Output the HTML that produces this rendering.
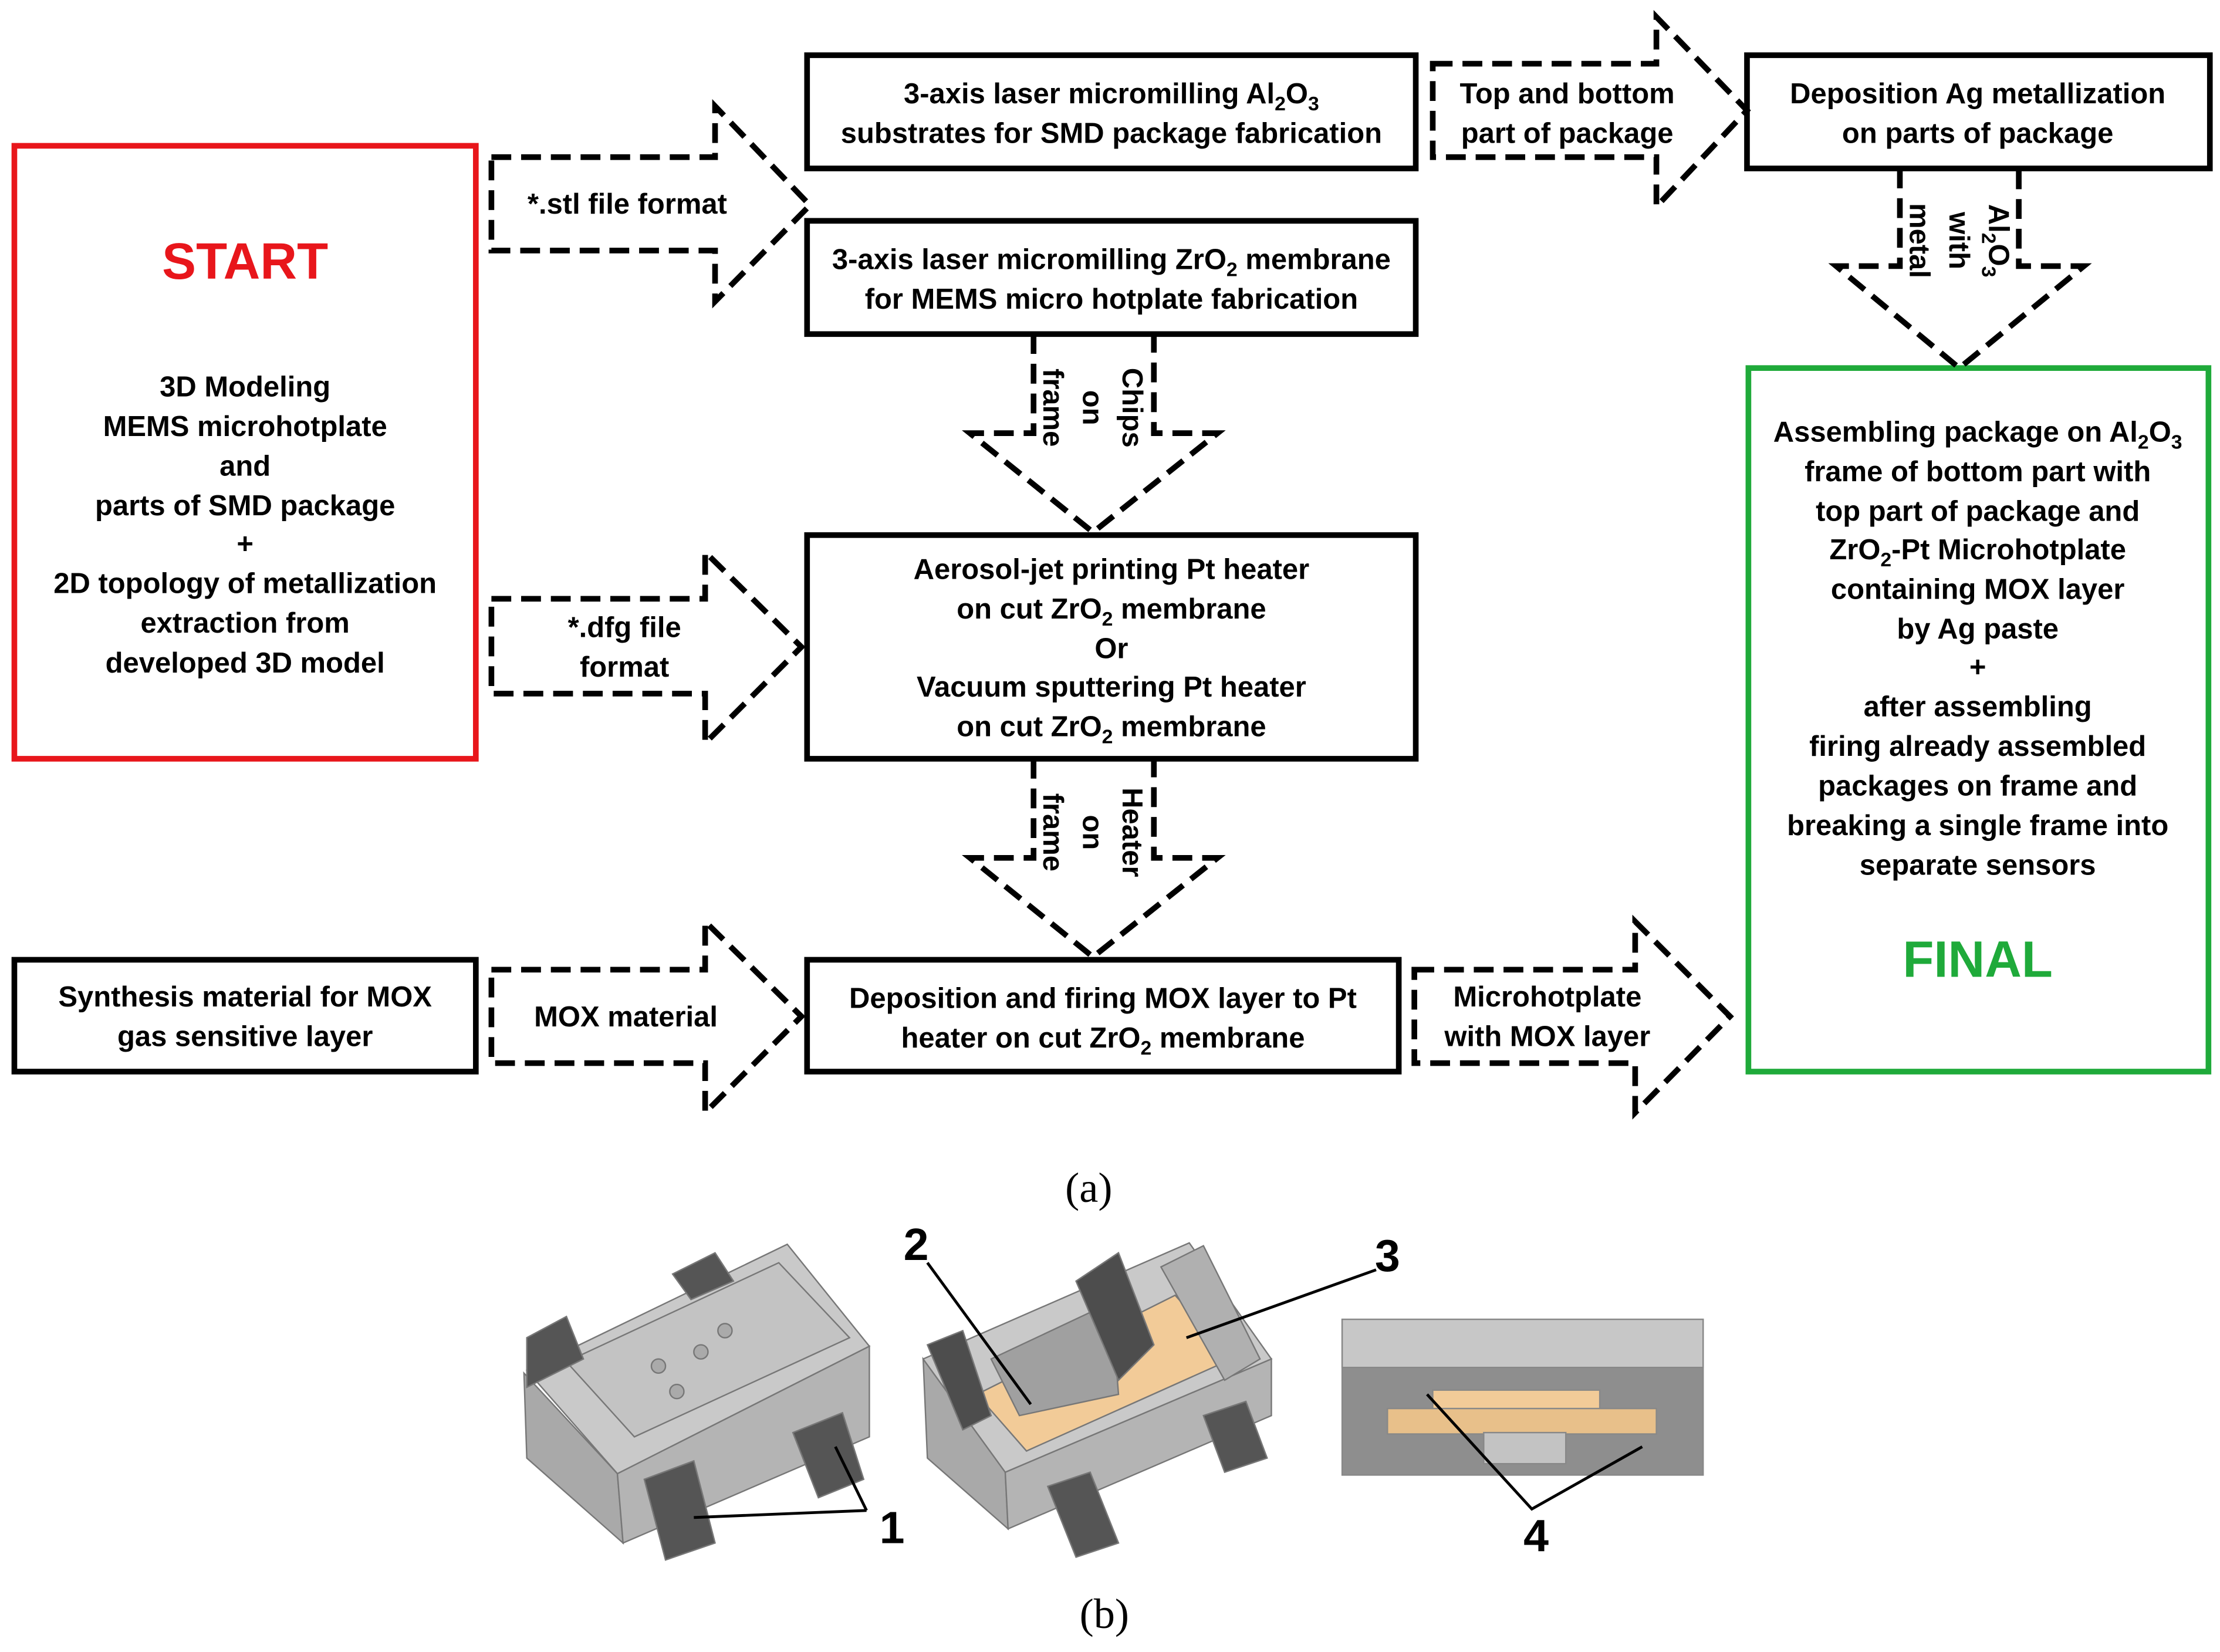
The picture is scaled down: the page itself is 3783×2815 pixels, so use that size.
<!DOCTYPE html>
<html><head><meta charset="utf-8"><style>html,body{margin:0;padding:0;background:#fff}svg{display:block}</style></head>
<body>
<svg width="3783" height="2815" viewBox="0 0 1568 1167" xmlns="http://www.w3.org/2000/svg" font-family="'Liberation Sans', sans-serif">
<rect width="1568" height="1167" fill="#fff"/>
<g fill="none" stroke="#000" stroke-width="4">
<rect x="570" y="39" width="430" height="80"/>
<rect x="570" y="156" width="430" height="80"/>
<rect x="570" y="378" width="430" height="158"/>
<rect x="570" y="678" width="418" height="79"/>
<rect x="10" y="678" width="326" height="79"/>
<rect x="1234" y="39" width="327" height="80"/>
</g>
<rect x="10" y="103" width="326" height="433" fill="none" stroke="#e8161b" stroke-width="4"/>
<rect x="1235" y="260" width="325" height="497" fill="none" stroke="#1faa3a" stroke-width="4"/>
<g fill="none" stroke="#000" stroke-width="4" stroke-dasharray="14,7">
<path d="M347,111 H505 V75 L572,145 L505,213 V177 H347 Z"/>
<path d="M347,423 H498 V390 L566,457 L498,525 V490 H347 Z"/>
<path d="M347,685 H498 V651 L566,718 L498,786 V751 H347 Z"/>
<path d="M999,685 H1155 V651 L1222,718 L1155,786 V751 H999 Z"/>
<path d="M1012,45 H1170 V12 L1234,78 L1170,146 V111 H1012 Z"/>
<path d="M730,236 V306 H685 L772,376 L860,306 H815 V236"/>
<path d="M730,536 V606 H685 L772,676 L860,606 H815 V536"/>
<path d="M1342,119 V188 H1297 L1384,260 L1472,188 H1426 V119"/>
</g>
<g font-weight="bold" font-size="20.3" text-anchor="middle" fill="#000">
<text x="173" y="197" font-size="36" fill="#e8161b">START</text>
<text x="173" y="280">3D Modeling</text>
<text x="173" y="308">MEMS microhotplate</text>
<text x="173" y="336">and</text>
<text x="173" y="364">parts of SMD package</text>
<text x="173" y="391">+</text>
<text x="173" y="419">2D topology of metallization</text>
<text x="173" y="447">extraction from</text>
<text x="173" y="475">developed 3D model</text>
<text x="173" y="711">Synthesis material for MOX</text>
<text x="173" y="739">gas sensitive layer</text>
<text x="443" y="151">*.stl  file format</text>
<text x="441" y="450">*.dfg file</text>
<text x="441" y="478">format</text>
<text x="442" y="725">MOX material</text>
<text x="1093" y="711">Microhotplate</text>
<text x="1093" y="739">with MOX layer</text>
<text x="1107" y="73">Top and bottom</text>
<text x="1107" y="101">part of package</text>
<text x="785" y="73">3-axis laser micromilling  Al<tspan font-size="14" dy="5">2</tspan><tspan dy="-5">O</tspan><tspan font-size="14" dy="5">3</tspan></text>
<text x="785" y="101">substrates  for SMD package fabrication</text>
<text x="785" y="190">3-axis laser micromilling  ZrO<tspan font-size="14" dy="5">2</tspan><tspan dy="-5"> membrane</tspan></text>
<text x="785" y="218">for MEMS micro hotplate fabrication</text>
<text x="785" y="409">Aerosol-jet printing  Pt heater</text>
<text x="785" y="437">on cut ZrO<tspan font-size="14" dy="5">2</tspan><tspan dy="-5"> membrane</tspan></text>
<text x="785" y="465">Or</text>
<text x="785" y="492">Vacuum sputtering Pt heater</text>
<text x="785" y="520">on cut ZrO<tspan font-size="14" dy="5">2</tspan><tspan dy="-5"> membrane</tspan></text>
<text x="779" y="712">Deposition and firing MOX layer to Pt</text>
<text x="779" y="740">heater on cut ZrO<tspan font-size="14" dy="5">2</tspan><tspan dy="-5"> membrane</tspan></text>
<text x="1397" y="73">Deposition Ag metallization</text>
<text x="1397" y="101">on parts of package</text>
<text x="1397" y="312">Assembling  package on Al<tspan font-size="14" dy="5">2</tspan><tspan dy="-5">O</tspan><tspan font-size="14" dy="5">3</tspan></text>
<text x="1397" y="340">frame of bottom part with</text>
<text x="1397" y="368">top part of package and</text>
<text x="1397" y="395">ZrO<tspan font-size="14" dy="5">2</tspan><tspan dy="-5">-Pt Microhotplate</tspan></text>
<text x="1397" y="423">containing MOX layer</text>
<text x="1397" y="451">by Ag paste</text>
<text x="1397" y="478">+</text>
<text x="1397" y="506">after assembling</text>
<text x="1397" y="534">firing already assembled</text>
<text x="1397" y="562">packages on frame and</text>
<text x="1397" y="590">breaking a single frame into</text>
<text x="1397" y="618">separate sensors</text>
<text x="1397" y="690" font-size="36" fill="#1faa3a">FINAL</text>
<g transform="translate(772,288) rotate(90)"><text x="0" y="-21">Chips</text><text x="0" y="7">on</text><text x="0" y="35">frame</text></g>
<g transform="translate(772,588) rotate(90)"><text x="0" y="-21">Heater</text><text x="0" y="7">on</text><text x="0" y="35">frame</text></g>
<g transform="translate(1384,170) rotate(90)"><text x="0" y="-21">Al<tspan font-size="14" dy="5">2</tspan><tspan dy="-5">O</tspan><tspan font-size="14" dy="5">3</tspan></text><text x="0" y="7">with</text><text x="0" y="35">metal</text></g>
</g>
<g font-family="'Liberation Serif', serif" font-size="30" text-anchor="middle">
<text x="769" y="849">(a)</text>
<text x="780" y="1150">(b)</text>
</g>
<!-- Fig 1 -->
<g stroke="#777" stroke-width="1">
<polygon points="370,970 436,1041 440,1090 372,1030" fill="#a9a9a9"/>
<polygon points="436,1041 614,951 614,1015 440,1090" fill="#b4b4b4"/>
<polygon points="372,968 556,879 614,951 436,1041" fill="#c9c9c9"/>
<polygon points="400,962 550,892 600,945 448,1015" fill="#c3c3c3"/>
<polygon points="372,945 400,930 412,960 372,980" fill="#555"/>
<polygon points="475,900 505,885 518,905 488,918" fill="#555"/>
<polygon points="455,1045 490,1032 505,1090 470,1102" fill="#555"/>
<polygon points="560,1012 595,998 610,1045 578,1058" fill="#555"/>
<circle cx="465" cy="965" r="5" fill="#aaa"/><circle cx="495" cy="955" r="5" fill="#aaa"/><circle cx="512" cy="940" r="5" fill="#aaa"/><circle cx="478" cy="983" r="5" fill="#aaa"/>
</g>
<g stroke="#000" stroke-width="2" fill="none"><path d="M490,1072 L612,1067 M612,1067 L590,1022"/></g>
<!-- Fig 2 -->
<g stroke="#777" stroke-width="1">
<polygon points="652,960 710,1040 712,1080 655,1030" fill="#a9a9a9"/>
<polygon points="710,1040 898,960 898,1000 712,1080" fill="#b4b4b4"/>
<polygon points="652,960 840,878 898,960 710,1040" fill="#c9c9c9"/>
<polygon points="690,985 830,915 870,960 725,1025" fill="#f2cb98"/>
<polygon points="700,960 785,920 790,985 720,1000" fill="#a0a0a0"/>
<polygon points="760,905 790,885 815,950 790,975" fill="#4d4d4d"/>
<polygon points="655,950 680,940 700,1000 680,1010" fill="#4d4d4d"/>
<polygon points="740,1050 770,1040 790,1090 760,1100" fill="#555"/>
<polygon points="850,1000 880,990 895,1030 865,1040" fill="#555"/>
<polygon points="820,895 850,880 890,960 865,975" fill="#b0b0b0"/>
</g>
<g stroke="#000" stroke-width="2" fill="none"><path d="M655,892 L728,992 M838,945 L972,897"/></g>
<!-- Fig 3 -->
<g stroke="#888" stroke-width="1">
<rect x="948" y="932" width="255" height="110" fill="#8e8e8e"/>
<rect x="948" y="932" width="255" height="34" fill="#c7c7c7"/>
<rect x="1012" y="982" width="118" height="30" fill="#f2cb98"/>
<rect x="980" y="995" width="190" height="18" fill="#e8c08a"/>
<rect x="1048" y="1012" width="58" height="22" fill="#c3c3c3"/>
</g>
<g stroke="#000" stroke-width="2" fill="none"><path d="M1008,985 L1082,1066 L1160,1022"/></g>
<g font-weight="bold" font-size="32" text-anchor="middle">
<text x="630" y="1090">1</text><text x="647" y="890">2</text><text x="980" y="898">3</text><text x="1085" y="1096">4</text>
</g>
</svg>
</body></html>
